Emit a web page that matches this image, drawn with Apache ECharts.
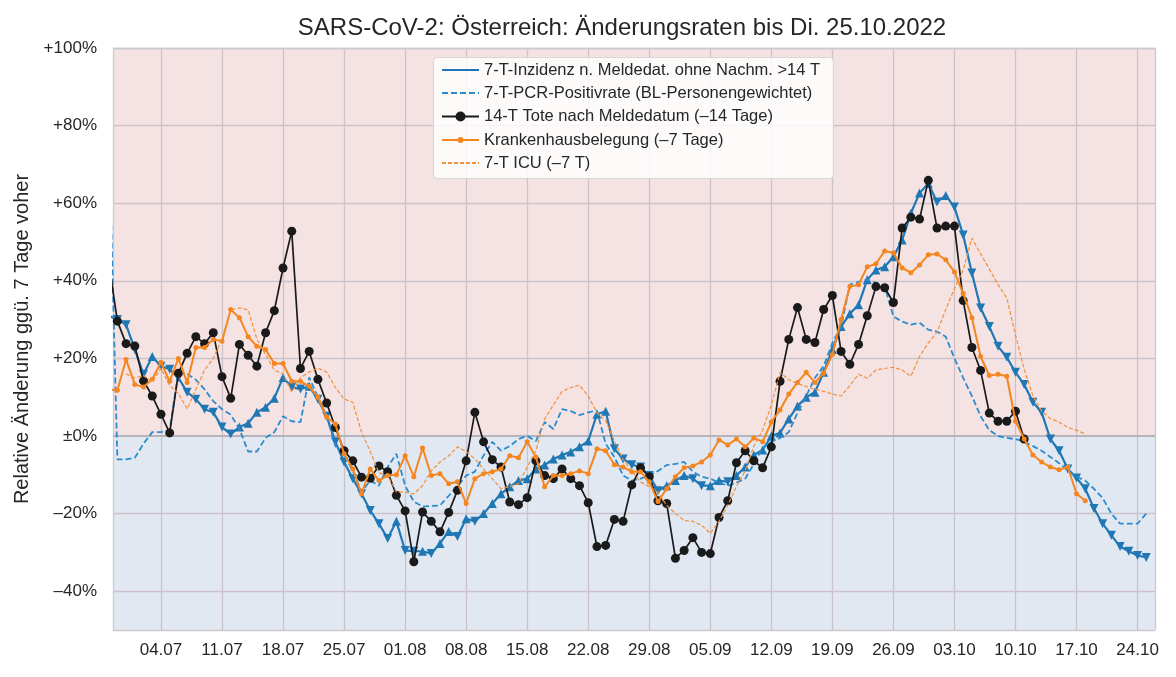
<!DOCTYPE html>
<html>
<head>
<meta charset="utf-8">
<title>SARS-CoV-2: Österreich: Änderungsraten</title>
<style>
  * { margin: 0; padding: 0; }
  html, body { width: 100%; height: 100%; background: #fff; }
  #chart { width: 1176px; height: 677px; }
</style>
</head>
<body>
<div id="chart"></div>
<script src="https://cdn.jsdelivr.net/npm/echarts@6/dist/echarts.min.js"></script>
<script>
// Tage 28.06. - 25.10.2022
const dates = [
  '28.06', '29.06', '30.06',
  '01.07', '02.07', '03.07', '04.07', '05.07', '06.07', '07.07', '08.07', '09.07', '10.07',
  '11.07', '12.07', '13.07', '14.07', '15.07', '16.07', '17.07', '18.07', '19.07', '20.07',
  '21.07', '22.07', '23.07', '24.07', '25.07', '26.07', '27.07', '28.07', '29.07', '30.07', '31.07',
  '01.08', '02.08', '03.08', '04.08', '05.08', '06.08', '07.08', '08.08', '09.08', '10.08',
  '11.08', '12.08', '13.08', '14.08', '15.08', '16.08', '17.08', '18.08', '19.08', '20.08',
  '21.08', '22.08', '23.08', '24.08', '25.08', '26.08', '27.08', '28.08', '29.08', '30.08', '31.08',
  '01.09', '02.09', '03.09', '04.09', '05.09', '06.09', '07.09', '08.09', '09.09', '10.09',
  '11.09', '12.09', '13.09', '14.09', '15.09', '16.09', '17.09', '18.09', '19.09', '20.09',
  '21.09', '22.09', '23.09', '24.09', '25.09', '26.09', '27.09', '28.09', '29.09', '30.09',
  '01.10', '02.10', '03.10', '04.10', '05.10', '06.10', '07.10', '08.10', '09.10', '10.10',
  '11.10', '12.10', '13.10', '14.10', '15.10', '16.10', '17.10', '18.10', '19.10', '20.10',
  '21.10', '22.10', '23.10', '24.10', '25.10'
];
const xTickLabels = ['04.07', '11.07', '18.07', '25.07', '01.08', '08.08', '15.08', '22.08',
  '29.08', '05.09', '12.09', '19.09', '26.09', '03.10', '10.10', '17.10', '24.10'];
const yTicks = [-40, -20, 0, 20, 40, 60, 80, 100];
const yTickLabels = ['–40%', '–20%', '±0%', '+20%', '+40%', '+60%', '+80%', '+100%'];

const names = [
  '7-T-Inzidenz n. Meldedat. ohne Nachm. >14 T',
  '7-T-PCR-Positivrate (BL-Personengewichtet)',
  '14-T Tote nach Meldedatum (–14 Tage)',
  'Krankenhausbelegung (–7 Tage)',
  '7-T ICU (–7 T)'
];

const inzidenz = [
  31, 30, 28.7,
  22.3, 15.9, 20.5, 18, 17.2, 15, 11.3, 9.5, 6.9, 6.1, 2.3, 0.5, 2.3, 3.3, 6.1, 7.4,
  9.7, 15.1, 12.6, 12.1, 12.8, 9.5, 5.1, -1.5, -6.7, -11, -14.9, -19.2, -22.6, -26.4, -22,
  -29.5, -29.7, -29.7, -30.3, -27.7, -24.6, -25.9, -21.3, -22, -20, -17.4, -14.9, -13.1, -11.5,
  -11, -8.5, -7.5, -5.9, -4.9, -4.1, -2.8, -1.3, 5.6, 6.4, -3.3, -5.9, -7.4, -8, -10.2, -14.1, -12.8,
  -11.5, -10.2, -11, -12.8, -12.8, -11.5, -11.8, -10.2, -8, -4.9, -3.6, 0, 0.8, 4.4, 7.7,
  10, 11.3, 16.4, 22.3, 28.2, 31.5, 33.8, 40.3, 42.8, 43.6, 46.2, 50.5, 57.4, 62.6, 65.1,
  60.3, 62, 59, 51.8, 42, 33, 28.2, 23.1, 20.3, 16.4, 13.3, 8.7, 6.1, -0.8, -3.8,
  -8.5, -10.8, -13.6, -18.7, -22.6, -25.6, -28.5, -29.7, -30.8, -31.3
];
const pcr = [
  80, -6, -6,
  -5.6, -2, 1, 1, 1.5, 16.5, 16, 14.5, 12, 9, 6.9, 5.5, 1.8, -4, -4, -0.5,
  1, 5.1, 3.8, 3.6, 15.1, 10, 5.1, -2.6, -5, -9, -14.4, -11.5, -12.8, -8, -4.6,
  -12.8, -16.9, -18.2, -18, -17.9, -15.4, -13, -10.2, -9.2, -5, -1.5, -3.8, -2.6, -0.8,
  0, -1.3, 3.6, 1.8, 6.9, 6.4, 5.4, 6.1, 6.5, -2, -5.4, -10.2, -11.5, -11, -10.2, -9, -7.5,
  -7.2, -6.7, -9.2, -10.5, -11, -12, -12.8, -12, -11, -7.2, -3, -1.5, -0.5, 1, 6,
  10.3, 15, 18, 24, 28.2, 39, 39.7, 40.3, 39.5, 38.5, 30.8, 29.5, 28.7, 29.2, 27.4,
  26.9, 25.6, 20, 15, 10.3, 5.1, 1.5, 0, -0.5, -0.8, -1.5, -2.6, -3.8, -5.4, -7,
  -9, -10.5, -11.5, -13.6, -16, -20, -22.6, -22.6, -22.6, -20
];
const tote = [
  45, 29.6, 23.8,
  23.2, 14.2, 10.3, 5.6, 0.8, 16.2, 21.3, 25.6, 23.8, 26.6, 15.3, 9.7, 23.6, 20.8, 18, 26.6,
  32.3, 43.3, 52.8, 17.4, 21.8, 14.6, 8.5, 2.2, -3.8, -6.4, -10.6, -10.9, -7.7, -9.2, -15.3,
  -19.3, -32.4, -19.6, -22, -24.7, -19.7, -14, -6.4, 6.1, -1.5, -6.1, -8, -17, -17.7,
  -15.9, -6.4, -10.2, -11, -8.5, -11, -12.8, -17.2, -28.5, -28.2, -21.5, -22, -12.6, -8.2, -10.5, -16.7, -17.4,
  -31.5, -29.5, -26.2, -30, -30.3, -21, -16.7, -6.9, -3.8, -6.4, -8.2, -2.8, 14.1, 24.9, 33.1,
  24.9, 24.1, 32.6, 36.2, 21.8, 18.5, 23.6, 31, 38.5, 38.2, 34.4, 53.6, 56.4, 55.9, 65.9,
  53.6, 54.1, 54.1, 34.9, 22.8, 16.9, 5.9, 3.8, 3.8, 6.4, -0.8, null, null, null, null,
  null, null, null, null, null, null, null, null, null, null
];
const krankenhaus = [
  12, 11.8, 19.7,
  13.3, 12.6, 14.6, 19, 14.1, 20, 13.8, 22.8, 22.8, 24.9, 24.4, 32.6, 30.5, 25.6, 23.1, 22.3,
  18.7, 18.7, 14.1, 14.1, 12.8, 10, 4.9, 3.1, -4.6, -8.5, -14.9, -8.5, -11.5, -10.2, -10,
  -5.1, -10.5, -3.1, -10.2, -9.7, -12.3, -11.8, -17.4, -11, -9.7, -9.2, -8.5, -5.1, -5.6,
  -1.5, -5.4, -13.1, -10.2, -10.2, -9.7, -9, -9.7, -3.3, -3.8, -7.4, -8, -9.2, -9.2, -11.8, -16.9, -13.6,
  -10.5, -8.2, -7.7, -6.7, -4.9, -1, -2.3, -0.8, -2.8, -0.5, -1.5, 3.6, 6.7, 10.8, 13.8,
  16.4, 13.8, 16.2, 21, 30, 38.5, 39, 43.6, 44.4, 47.7, 47.2, 43.3, 42.1, 44.1, 46.7,
  46.9, 45.4, 42.3, 36.7, 30.5, 20.5, 15.6, 15.9, 15.4, 3.8, -0.8, -4.9, -6.7, -8, -8.7,
  -8, -14.9, -16.7, null, null, null, null, null, null, null
];
const icu = [
  null, null, 16,
  15, 15.5, 14, 17.5, 13, 11, 7, 12, 17, 20, 25, 32.5, 33, 32.5, 25, 21,
  17, 16, 11.3, 15, 16.5, 17.5, 16.5, 12.5, 9.5, 8.7, 1, -4, -9.5, -10.2, -14.4,
  -14.5, -14.9, -12.8, -9, -6.7, -5.1, -2.8, -4, -5.9, -8.5, -11, -13.6, -13, -12.3,
  -8, -3.8, 4.4, 8, 11.5, 12.5, 13.1, 10.3, 6, 4, -1.3, -6, -9, -11.8, -13.1, -14.5, -17.9,
  -20, -21.8, -22, -23, -25.1, -22, -17.9, -13, -9, -2.6, 1.5, 8, 16.4, 14.5, 13.5,
  12.8, 12, 11.5, 10.8, 10.3, 13, 15.9, 14.9, 17, 17.4, 17.7, 17, 15.4, 20.5, 24,
  26.7, 32.6, 38, 42.8, 51, 47, 43, 39, 35.6, 26, 17.2, 10.3, 6.4, 4.5, 3.6,
  2.2, 1.5, 0.5, null, null, null, null, null, null, null
];

const xTickIdx = xTickLabels.map(d => dates.indexOf(d));
const xMin = 0.5;
const xMax = dates.length;
const yMin = -50;
const yMax = 100;

const pairs = arr => arr.map((v, i) => [i, v]);

// Dreiecke: nach oben bei Anstieg, nach unten bei Rückgang
const inzidenzData = inzidenz.map((v, i) => {
  const falling = i > 0 && v < inzidenz[i - 1];
  return { value: [i, v], symbol: 'triangle', symbolRotate: falling ? 180 : 0 };
});

const gridColor = '#cbc3c9';
const gridLines = [];
yTicks.forEach(v => { if (v !== 0) gridLines.push({ yAxis: v }); });
xTickIdx.forEach(i => gridLines.push({ xAxis: i }));
const frameLines = [{ yAxis: yMax }, { yAxis: yMin }, { xAxis: xMin }, { xAxis: xMax }];

const font = "'Liberation Sans', Arial, sans-serif";
const textColor = '#262626';

// Legende: eine Zeile pro Eintrag, Kasten als Grafik dahinter
const legendRows = [70, 93, 116.5, 140, 163];
const legendIconH = [14, 14, 12.5, 7.5, 14];
const legendHideSymbol = [true, true, false, false, true];
const legends = names.map((n, i) => ({
  data: [legendHideSymbol[i]
    ? { name: n, itemStyle: { opacity: 0, color: 'rgba(0,0,0,0)', borderWidth: 0 } }
    : { name: n }],
  left: 441,
  top: legendRows[i] - 9,
  padding: 0,
  itemWidth: 37,
  itemHeight: legendIconH[i],
  selectedMode: false,
  z: 21,
  textStyle: { fontSize: 16.5, lineHeight: 18, color: textColor, fontFamily: font }
}));

const chart = echarts.init(document.getElementById('chart'), null, { renderer: 'canvas' });

chart.setOption({
  animation: false,
  backgroundColor: '#ffffff',
  textStyle: { fontFamily: font, color: textColor },
  title: {
    text: 'SARS-CoV-2: Österreich: Änderungsraten bis Di. 25.10.2022',
    left: 617,
    textAlign: 'center',
    top: 11,
    textStyle: { fontSize: 24, fontWeight: 'normal', color: textColor, fontFamily: font }
  },
  graphic: [{
    type: 'rect',
    z: 20,
    silent: true,
    shape: { x: 433.5, y: 57.5, width: 400, height: 121, r: 4 },
    style: { fill: 'rgba(255,255,255,0.82)', stroke: '#d6d6d6', lineWidth: 1 }
  }],
  legend: legends,
  grid: { left: 113, right: 21, top: 48, bottom: 47 },
  xAxis: {
    type: 'value',
    min: xMin,
    max: xMax,
    splitLine: { show: false },
    axisLine: { show: false },
    axisTick: {
      show: true,
      customValues: xTickIdx,
      length: 6,
      lineStyle: { color: '#333', width: 1.3 }
    },
    axisLabel: {
      customValues: xTickIdx,
      formatter: v => dates[v] || '',
      fontSize: 17,
      color: textColor,
      margin: 12
    }
  },
  yAxis: {
    type: 'value',
    min: yMin,
    max: yMax,
    name: 'Relative Änderung ggü. 7 Tage voher',
    nameLocation: 'middle',
    nameGap: 80,
    nameTextStyle: { fontSize: 20, color: textColor, fontFamily: font },
    splitLine: { show: false },
    axisLine: { show: false },
    axisTick: { show: false },
    axisLabel: {
      customValues: yTicks,
      formatter: v => yTickLabels[yTicks.indexOf(v)] || '',
      fontSize: 17,
      color: textColor,
      margin: 16
    }
  },
  series: [
    {
      name: 'Hintergrund',
      type: 'line',
      data: [],
      silent: true,
      z: 1,
      markArea: {
        silent: true,
        z: 1,
        data: [
          [{ xAxis: xMin, yAxis: 0, itemStyle: { color: '#f5e3e4' } }, { xAxis: xMax, yAxis: yMax }],
          [{ xAxis: xMin, yAxis: yMin, itemStyle: { color: '#e2e8f2' } }, { xAxis: xMax, yAxis: 0 }]
        ]
      },
      markLine: {
        silent: true,
        z: 2,
        symbol: ['none', 'none'],
        label: { show: false },
        animation: false,
        data: [
          ...gridLines.map(d => ({ ...d, lineStyle: { color: gridColor, width: 1.3, type: 'solid' } })),
          ...frameLines.map(d => ({ ...d, lineStyle: { color: '#c9c9cf', width: 1.3, type: 'solid' } })),
          { yAxis: 0, lineStyle: { color: '#b5b3bb', width: 1.8, type: 'solid' } }
        ]
      }
    },
    {
      name: names[0],
      type: 'line',
      data: inzidenzData,
      symbol: 'none',
      symbolSize: 9,
      showSymbol: true,
      color: '#1f77b4',
      itemStyle: { color: '#1f77b4' },
      lineStyle: { width: 2.2, color: '#1f77b4' },
      z: 3
    },
    {
      name: names[1],
      type: 'line',
      data: pairs(pcr),
      symbol: 'none',
      color: '#2a8ccf',
      lineStyle: { width: 1.8, type: [6, 3], color: '#2a8ccf' },
      z: 4
    },
    {
      name: names[2],
      type: 'line',
      data: pairs(tote),
      symbol: 'circle',
      symbolSize: 9,
      color: '#1a1a1a',
      itemStyle: { color: '#1a1a1a' },
      lineStyle: { width: 1.7, color: '#1a1a1a' },
      z: 5
    },
    {
      name: names[3],
      type: 'line',
      data: pairs(krankenhaus),
      symbol: 'circle',
      symbolSize: 5,
      color: '#f5861f',
      itemStyle: { color: '#f5861f' },
      lineStyle: { width: 2, color: '#f5861f' },
      z: 6
    },
    {
      name: names[4],
      type: 'line',
      data: pairs(icu),
      symbol: 'none',
      color: '#f0913a',
      lineStyle: { width: 1.2, type: [4, 2], color: '#f0913a' },
      z: 7
    }
  ]
});
</script>
</body>
</html>
